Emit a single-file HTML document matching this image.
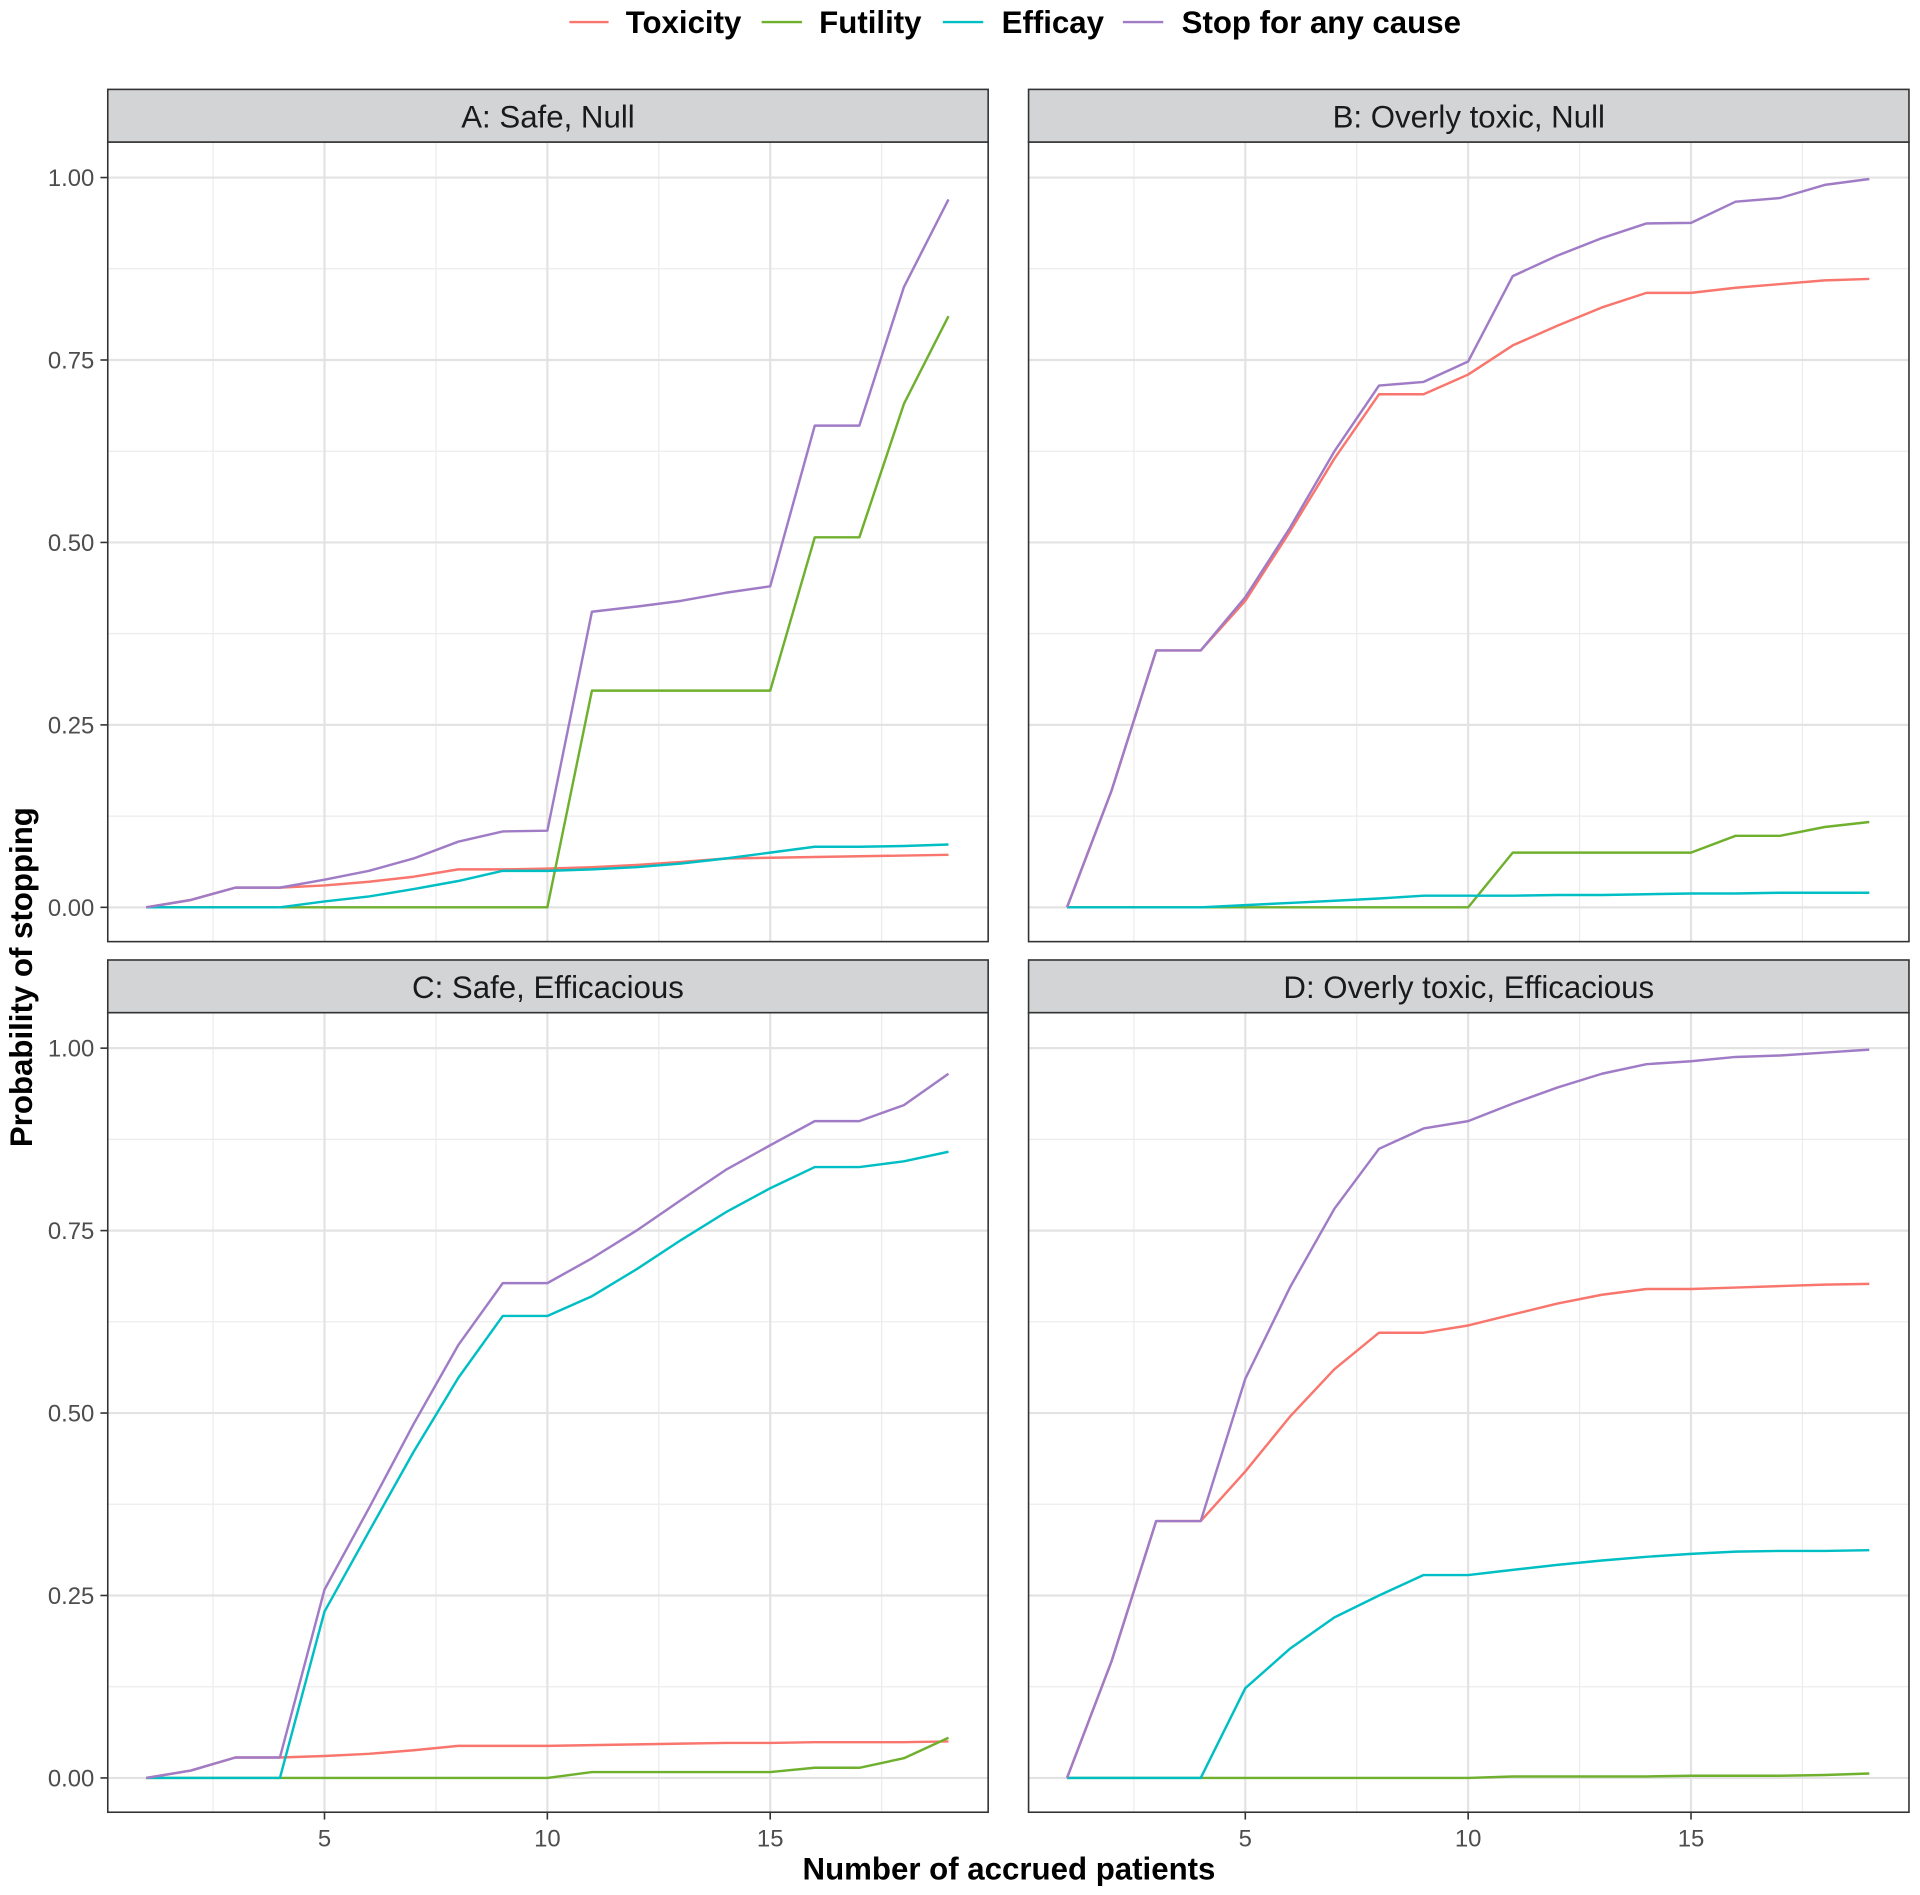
<!DOCTYPE html>
<html><head><meta charset="utf-8"><style>
html,body{margin:0;padding:0;background:#fff}
svg{display:block}
text{font-family:"Liberation Sans",sans-serif}
</style></head><body>
<svg id="s" width="1920" height="1895" viewBox="0 0 1568 1547.6" xmlns="http://www.w3.org/2000/svg">
<rect width="1568" height="1547.6" fill="#fff"/>
<g font-weight="bold" font-size="25.5" fill="#000">
<line x1="465" y1="18" x2="497" y2="18" stroke="#F8766D" stroke-width="2"/>
<text x="511" y="27">Toxicity</text>
<line x1="622" y1="18" x2="655" y2="18" stroke="#6FB02F" stroke-width="2"/>
<text x="669" y="27">Futility</text>
<line x1="770" y1="18" x2="803" y2="18" stroke="#00BFC4" stroke-width="2"/>
<text x="818" y="27">Efficay</text>
<line x1="917" y1="18" x2="950" y2="18" stroke="#A07CC6" stroke-width="2"/>
<text x="965" y="27">Stop for any cause</text>
</g>
<text x="824" y="1535" text-anchor="middle" font-weight="bold" font-size="25.5">Number of accrued patients</text>
<text transform="translate(26,798) rotate(-90)" text-anchor="middle" font-weight="bold" font-size="25.5">Probability of stopping</text>
<g id="panels"></g>
</svg>
<script>
const D={
A:{t:"A: Safe, Null",
tox:[0,0.01,0.027,0.027,0.03,0.035,0.042,0.052,0.052,0.053,0.055,0.058,0.062,0.067,0.068,0.069,0.07,0.071,0.072],
fut:[0,0,0,0,0,0,0,0,0,0,0.297,0.297,0.297,0.297,0.297,0.507,0.507,0.69,0.81],
eff:[0,0,0,0,0.008,0.015,0.025,0.036,0.05,0.05,0.052,0.055,0.06,0.067,0.075,0.083,0.083,0.084,0.086],
stop:[0,0.01,0.027,0.027,0.038,0.05,0.067,0.09,0.104,0.105,0.405,0.412,0.42,0.431,0.44,0.66,0.66,0.85,0.97]},
B:{t:"B: Overly toxic, Null",
tox:[0,0.16,0.352,0.352,0.42,0.515,0.615,0.703,0.703,0.73,0.77,0.797,0.822,0.842,0.842,0.849,0.854,0.859,0.861],
fut:[0,0,0,0,0,0,0,0,0,0,0.075,0.075,0.075,0.075,0.075,0.098,0.098,0.11,0.117],
eff:[0,0,0,0,0.003,0.006,0.009,0.012,0.016,0.016,0.016,0.017,0.017,0.018,0.019,0.019,0.02,0.02,0.02],
stop:[0,0.16,0.352,0.352,0.425,0.52,0.625,0.715,0.72,0.748,0.865,0.893,0.917,0.937,0.938,0.967,0.972,0.99,0.998]},
C:{t:"C: Safe, Efficacious",
tox:[0,0.01,0.028,0.028,0.03,0.033,0.038,0.044,0.044,0.044,0.045,0.046,0.047,0.048,0.048,0.049,0.049,0.049,0.05],
fut:[0,0,0,0,0,0,0,0,0,0,0.008,0.008,0.008,0.008,0.008,0.014,0.014,0.027,0.055],
eff:[0,0,0,0,0.228,0.338,0.447,0.548,0.633,0.633,0.66,0.697,0.737,0.775,0.808,0.837,0.837,0.845,0.858],
stop:[0,0.01,0.028,0.028,0.258,0.37,0.485,0.593,0.678,0.678,0.712,0.75,0.792,0.833,0.867,0.9,0.9,0.922,0.965]},
D:{t:"D: Overly toxic, Efficacious",
tox:[0,0.16,0.352,0.352,0.42,0.495,0.56,0.61,0.61,0.62,0.635,0.65,0.662,0.67,0.67,0.672,0.674,0.676,0.677],
fut:[0,0,0,0,0,0,0,0,0,0,0.002,0.002,0.002,0.002,0.003,0.003,0.003,0.004,0.006],
eff:[0,0,0,0,0.123,0.177,0.22,0.25,0.278,0.278,0.285,0.292,0.298,0.303,0.307,0.31,0.311,0.311,0.312],
stop:[0,0.16,0.352,0.352,0.547,0.672,0.78,0.862,0.89,0.9,0.924,0.946,0.965,0.978,0.982,0.988,0.99,0.994,0.998]}};
const cols={tox:"#F8766D",fut:"#6FB02F",eff:"#00BFC4",stop:"#A07CC6"};
const P=[["A",0,0],["B",752,0],["C",0,711],["D",752,711]];
let h="";
for(const [k,dx,dy] of P){
 const L=88+dx,R=807+dx,T=116+dy,Bt=769+dy,ST=73+dy;
 const X=v=>119.4+dx+(v-1)*36.4, Y=v=>741+dy-v*596;
 h+=`<rect x="${L}" y="${T}" width="${R-L}" height="${Bt-T}" fill="#fff"/>`;
 for(const v of [2.5,7.5,12.5,17.5]) h+=`<line x1="${X(v)}" x2="${X(v)}" y1="${T}" y2="${Bt}" stroke="#ececec" stroke-width="1"/>`;
 for(const v of [0.125,0.375,0.625,0.875]) h+=`<line x1="${L}" x2="${R}" y1="${Y(v)}" y2="${Y(v)}" stroke="#ececec" stroke-width="1"/>`;
 for(const v of [5,10,15]) h+=`<line x1="${X(v)}" x2="${X(v)}" y1="${T}" y2="${Bt}" stroke="#e3e3e3" stroke-width="1.8"/>`;
 for(const v of [0,0.25,0.5,0.75,1]) h+=`<line x1="${L}" x2="${R}" y1="${Y(v)}" y2="${Y(v)}" stroke="#e3e3e3" stroke-width="1.8"/>`;
 for(const s of ["tox","fut","eff","stop"]){
  const pts=D[k][s].map((v,i)=>X(i+1).toFixed(1)+","+Y(v).toFixed(1)).join(" ");
  h+=`<polyline points="${pts}" fill="none" stroke="${cols[s]}" stroke-width="2" stroke-linejoin="round"/>`;
 }
 h+=`<rect x="${L}" y="${T}" width="${R-L}" height="${Bt-T}" fill="none" stroke="#333" stroke-width="1.3"/>`;
 h+=`<rect x="${L}" y="${ST}" width="${R-L}" height="${T-ST}" fill="#d3d4d6" stroke="#333" stroke-width="1.3"/>`;
 h+=`<text x="${(L+R)/2}" y="${ST+31}" text-anchor="middle" font-size="25.5" fill="#1a1a1a">${D[k].t}</text>`;
 if(dx===0){
  for(const v of [0,0.25,0.5,0.75,1]){
   h+=`<line x1="82" x2="${L}" y1="${Y(v)}" y2="${Y(v)}" stroke="#333" stroke-width="1.3"/>`;
   h+=`<text x="77" y="${Y(v)+7}" text-anchor="end" font-size="19.5" fill="#4d4d4d">${v.toFixed(2)}</text>`;
  }
 }
 if(dy>0){
  for(const v of [5,10,15]){
   h+=`<line x1="${X(v)}" x2="${X(v)}" y1="${Bt}" y2="${Bt+6}" stroke="#333" stroke-width="1.3"/>`;
   h+=`<text x="${X(v)}" y="${Bt+28}" text-anchor="middle" font-size="19.5" fill="#4d4d4d">${v}</text>`;
  }
 }
}
document.getElementById("panels").innerHTML=h;
</script>
</body></html>
